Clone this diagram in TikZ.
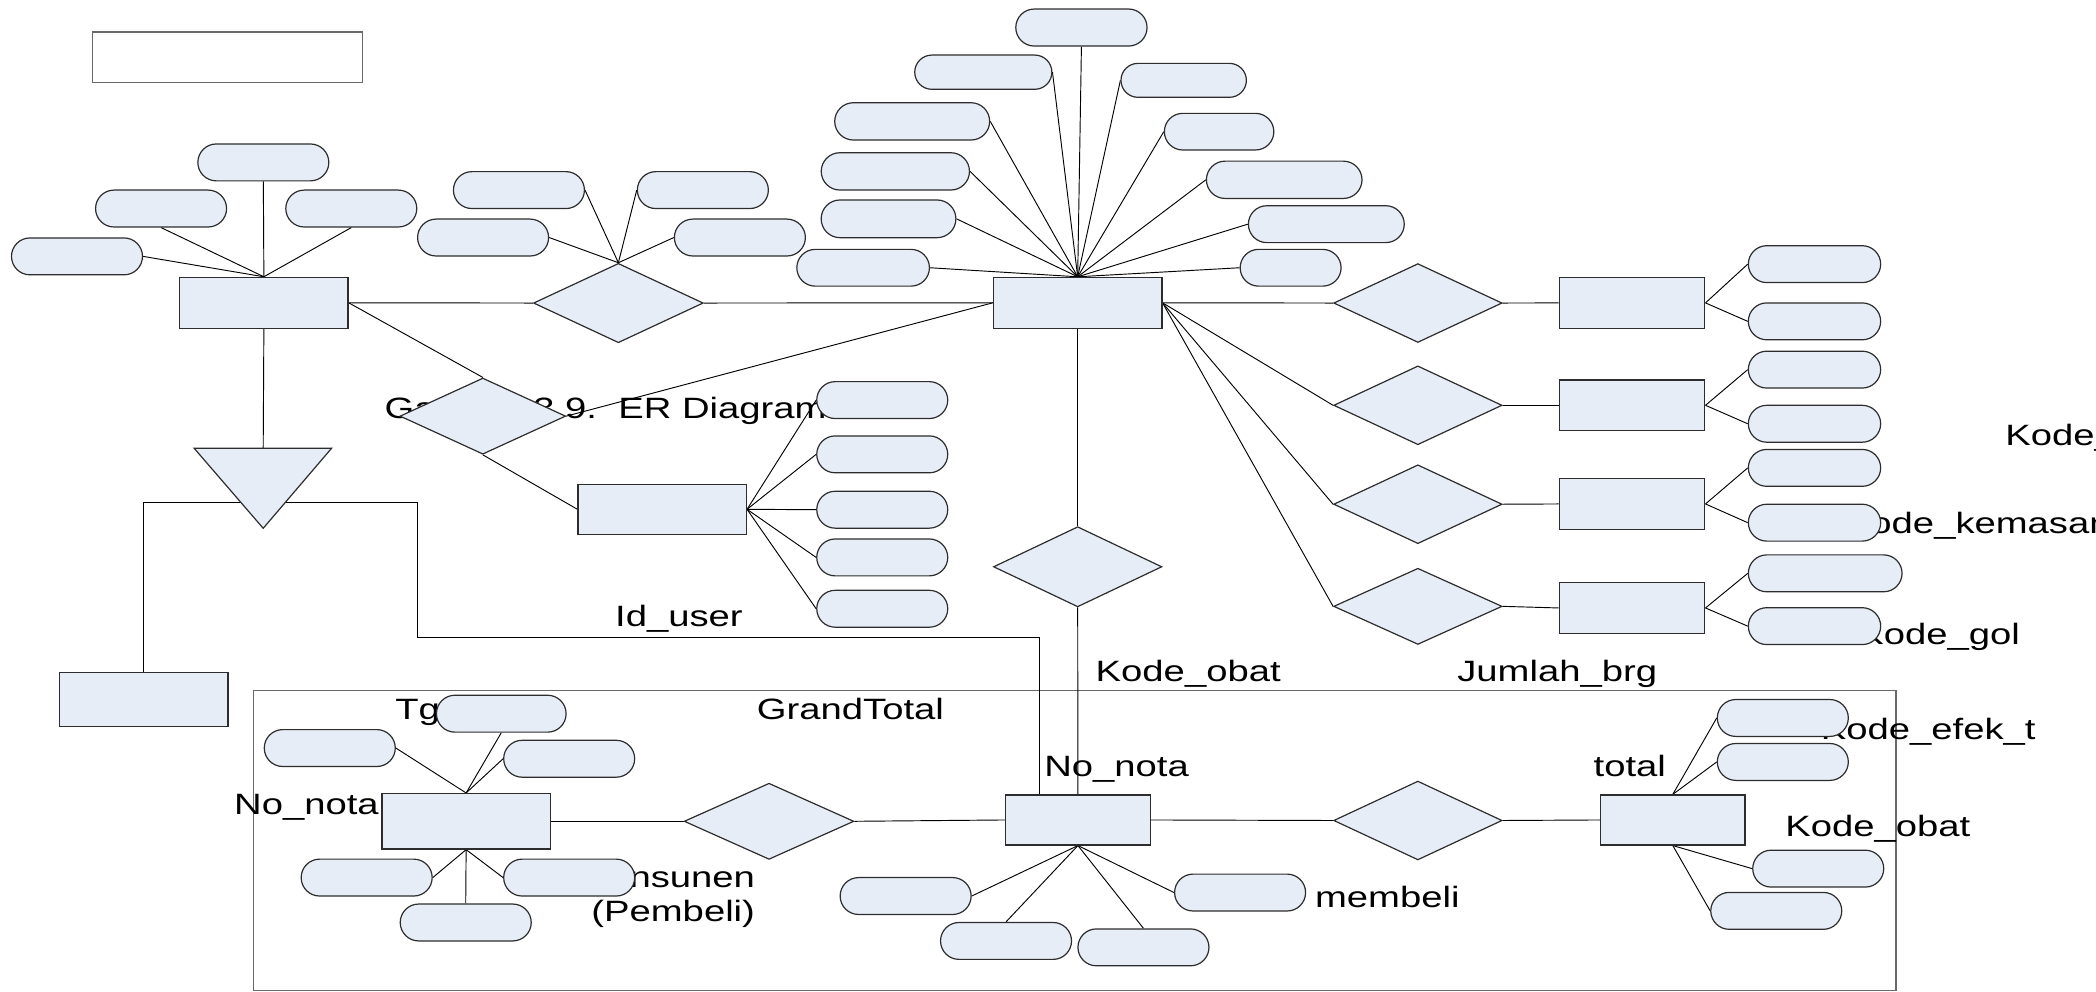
\documentclass[tikz,border=0pt]{standalone}
\usepackage{fontspec}
\newfontfamily\lblfont[FakeStretch=1.3]{Liberation Sans}
\usetikzlibrary{shapes.geometric,shapes.misc,backgrounds}
\definecolor{shfill}{RGB}{231,237,247}
\definecolor{shdraw}{RGB}{45,45,45}
\definecolor{boxdraw}{RGB}{105,105,105}
\frenchspacing
\begin{document}
\begin{tikzpicture}[x=1pt,y=-1pt,
  ent/.style={draw=shdraw,fill=shfill,line width=0.9pt,rectangle,inner sep=0pt,minimum width=126pt,minimum height=38pt},
  rel/.style={draw=shdraw,fill=shfill,line width=0.9pt,diamond,inner sep=0pt,minimum width=126pt,minimum height=59pt},
  attr/.style={draw=shdraw,fill=shfill,line width=0.9pt,rounded rectangle,inner sep=0pt,minimum width=98pt,minimum height=27.6pt},
  conn/.style={draw=black,line width=0.7pt},
  lbl/.style={font=\lblfont\fontsize{22}{26}\selectfont,inner sep=0pt,anchor=base west},
  lblr/.style={font=\lblfont\fontsize{22}{26}\selectfont,inner sep=0pt,anchor=base east}]
\useasboundingbox (0,0) rectangle (1568,742);

% ---------- free texts (drawn beneath the shapes) ----------
\node[lbl] (tGambar) at (287.5,313) {Gambar 3.9.~~ER Diagram};
\node[lbl] (tIduser) at (460,469) {Id\_user};
\node[lbl] (tGrand) at (566,538) {GrandTotal};
\node[lbl] (tTg) at (295.5,538) {Tg};
\node[lbl] (tNonota1) at (175,609) {No\_nota};
\node[lblr] (tKons) at (565,664) {Konsunen};
\node[lblr] (tPemb) at (565,689) {(Pembeli)};
\node[lbl] (tNonota2) at (781,581) {No\_nota};
\node[lbl] (tKodeobat1) at (819.5,510) {Kode\_obat};
\node[lbl] (tJumlah) at (1090,510) {Jumlah\_brg};
\node[lbl] (tTotal) at (1192,581) {total};
\node[lbl] (tMembeli) at (983.6,679) {membeli};
\node[lbl] (tKodeobat2) at (1335.4,626) {Kode\_obat};
\node[lbl] (tEfek) at (1362,553) {Kode\_efek\_t};
\node[lbl] (tGol) at (1390,482.5) {Kode\_gol};
\node[lbl] (tKemasan) at (1380,399) {Kode\_kemasan};
\node[lbl] (tKode) at (1500,333.5) {Kode\_};

% ---------- frame and title box ----------
\node[draw=boxdraw,fill=white,line width=0.9pt,rectangle,inner sep=0pt,minimum width=202pt,minimum height=38pt] (title) at (170,43) {};
\begin{scope}[on background layer]
\node[draw=boxdraw,line width=1pt,rectangle,inner sep=0pt,minimum width=1228.9pt,minimum height=224.3pt] (frame) at (803.85,628.85) {};
\end{scope}

% ---------- left entity and attributes ----------
\node[ent] (A) at (197.4,226.5) {};
\node[attr] (a1) at (197,121.5) {};
\node[attr] (a2) at (120.5,156) {};
\node[attr] (a3) at (262.8,156) {};
\node[attr] (a4) at (57.6,191.8) {};

\node[rel,minimum width=127pt,minimum height=59.4pt] (D1) at (462.6,226.7) {};
\node[attr] (d1) at (388.2,142.2) {};
\node[attr] (d2) at (525.8,142.2) {};
\node[attr] (d3) at (361.4,177.7) {};
\node[attr] (d4) at (553.5,177.7) {};

% ---------- central entity ----------
\node[ent] (C) at (806.2,226.5) {};
\node[attr,minimum width=98.2pt,minimum height=27.7pt] (c1) at (809,20.6) {};
\node[attr,minimum width=102.6pt,minimum height=25.6pt] (c2) at (735.6,54) {};
\node[attr,minimum width=93.8pt,minimum height=25.4pt] (c3) at (885.5,60.1) {};
\node[attr,minimum width=115.9pt,minimum height=27.9pt] (c4) at (682.4,90.8) {};
\node[attr,minimum width=81.9pt,minimum height=27.4pt] (c5) at (912,98.5) {};
\node[attr,minimum width=110.9pt,minimum height=27.9pt] (c6) at (669.8,128.2) {};
\node[attr,minimum width=116.4pt,minimum height=27.9pt] (c7) at (960.7,134.5) {};
\node[attr,minimum width=100.8pt,minimum height=28.2pt] (c8) at (664.7,163.7) {};
\node[attr,minimum width=116.6pt,minimum height=27.6pt] (c9) at (992.2,167.7) {};
\node[attr,minimum width=99.2pt,minimum height=27.5pt] (c10) at (645.7,200.3) {};
\node[attr,minimum width=75.5pt,minimum height=27.5pt] (c11) at (965.5,200.3) {};

% ---------- user branch ----------
\node[rel,minimum width=124pt,minimum height=57pt] (D2) at (361.2,311.3) {};
\node[ent,minimum height=37.4pt] (E) at (495.4,381) {};
\node[attr] (u1) at (660,299.3) {};
\node[attr] (u2) at (660,339.9) {};
\node[attr] (u3) at (660,381.3) {};
\node[attr] (u4) at (660,417) {};
\node[attr] (u5) at (660,455.4) {};

% ---------- specialisation triangle ----------
\draw[draw=shdraw,fill=shfill,line width=0.9pt] (145.3,335.4) -- (248,335.4) -- (196.9,395.2) -- cycle;
\coordinate (Ttop) at (196.9,335.4);
\coordinate (Tmid) at (196.9,376);
\coordinate (bend) at (312.1,477);
\node[ent,minimum height=40pt] (F) at (107.6,523.2) {};

% ---------- right side relations ----------
\node[rel] (R1) at (1060.7,226.7) {};
\node[rel] (R2) at (1060.7,303.2) {};
\node[rel] (R3) at (1060.7,377.2) {};
\node[rel,minimum height=57pt] (R4) at (1060.7,453.6) {};
\node[ent,minimum width=109pt] (E1) at (1220.9,226.6) {};
\node[ent,minimum width=109pt] (E2) at (1220.9,303.2) {};
\node[ent,minimum width=109pt] (E3) at (1220.9,377) {};
\node[ent,minimum width=109pt] (E4) at (1220.9,454.8) {};
\node[attr,minimum width=99pt] (e1a) at (1357.4,197.6) {};
\node[attr,minimum width=99pt] (e1b) at (1357.4,240.4) {};
\node[attr,minimum width=99pt] (e2a) at (1357.4,276.5) {};
\node[attr,minimum width=99pt] (e2b) at (1357.4,317) {};
\node[attr,minimum width=99pt] (e3a) at (1357.4,350) {};
\node[attr,minimum width=99pt] (e3b) at (1357.4,391) {};
\node[attr,minimum width=115pt] (e4a) at (1365.4,428.9) {};
\node[attr,minimum width=99pt] (e4b) at (1357.4,468.4) {};

% ---------- lower part ----------
\node[rel,minimum height=60pt] (D3) at (806.2,424) {};
\node[ent,minimum width=108pt,minimum height=37.4pt] (G) at (806.4,613.4) {};
\coordinate (gin) at ([xshift=-29pt]G.north);
\node[attr] (g1) at (677.5,670.3) {};
\node[attr] (g2) at (752.6,703.9) {};
\node[attr] (g3) at (855.4,708.7) {};
\node[attr] (g4) at (927.7,667.7) {};

\node[rel,minimum width=127pt,minimum height=57pt] (D5) at (575.3,614.4) {};
\node[ent,minimum height=41.5pt] (P) at (348.7,614.4) {};
\node[attr,minimum width=97pt] (pTg) at (375,533.9) {};
\node[attr] (p2) at (246.7,559.6) {};
\node[attr] (p3) at (425.8,567.6) {};
\node[attr] (p4) at (274.3,656.5) {};
\node[attr] (p5) at (425.8,656.5) {};
\node[attr] (p6) at (348.4,690.1) {};

\node[rel,minimum height=59pt] (D6) at (1060.7,613.8) {};
\node[ent,minimum width=108pt,minimum height=37.4pt] (H) at (1251.4,613.4) {};
\node[attr] (h1) at (1333.7,537.1) {};
\node[attr] (h2) at (1333.7,570) {};
\node[attr] (h3) at (1360.2,649.8) {};
\node[attr] (h4) at (1328.8,681.4) {};

% ---------- connectors ----------
\begin{scope}[on background layer]
\draw[conn] (a1.south) -- (A.north);
\draw[conn] (a2.south) -- (A.north);
\draw[conn] (a3.south) -- (A.north);
\draw[conn] (a4.east) -- (A.north);
\draw[conn] (A.east) -- (D1.west);
\draw[conn] (D1.east) -- (C.west);
\draw[conn] (d1.east) -- (D1.north);
\draw[conn] (d2.west) -- (D1.north);
\draw[conn] (d3.east) -- (D1.north);
\draw[conn] (d4.west) -- (D1.north);

\draw[conn] (c1.south) -- (C.north);
\draw[conn] (c2.east) -- (C.north);
\draw[conn] (c3.west) -- (C.north);
\draw[conn] (c4.east) -- (C.north);
\draw[conn] (c5.west) -- (C.north);
\draw[conn] (c6.east) -- (C.north);
\draw[conn] (c7.west) -- (C.north);
\draw[conn] (c8.east) -- (C.north);
\draw[conn] (c9.west) -- (C.north);
\draw[conn] (c10.east) -- (C.north);
\draw[conn] (c11.west) -- (C.north);

\draw[conn] (A.east) -- (D2.north);
\draw[conn] (C.west) -- (D2.east);
\draw[conn] (D2.south) -- (E.west);
\foreach \u in {u1,u2,u3,u4,u5} \draw[conn] (E.east) -- (\u.west);

\draw[conn] (A.south) -- (Ttop);
\draw[conn] (F.north) |- (Tmid);
\draw[conn] (Tmid) -| (bend) -| (gin);

\draw[conn] (C.south) -- (D3.north);
\draw[conn] (D3.south) -- (G.north);

\draw[conn] (C.east) -- (R1.west);
\draw[conn] (C.east) -- (R2.west);
\draw[conn] (C.east) -- (R3.west);
\draw[conn] (C.east) -- (R4.west);
\draw[conn] (R1.east) -- (E1.west);
\draw[conn] (R2.east) -- (E2.west);
\draw[conn] (R3.east) -- (E3.west);
\draw[conn] (R4.east) -- (E4.west);
\draw[conn] (E1.east) -- (e1a.west);
\draw[conn] (E1.east) -- (e1b.west);
\draw[conn] (E2.east) -- (e2a.west);
\draw[conn] (E2.east) -- (e2b.west);
\draw[conn] (E3.east) -- (e3a.west);
\draw[conn] (E3.east) -- (e3b.west);
\draw[conn] (E4.east) -- (e4a.west);
\draw[conn] (E4.east) -- (e4b.west);

\draw[conn] (P.east) -- (D5.west);
\draw[conn] (D5.east) -- (G.west);
\draw[conn] (G.east) -- (D6.west);
\draw[conn] (D6.east) -- (H.west);

\draw[conn] (pTg.south) -- (P.north);
\draw[conn] (p2.east) -- (P.north);
\draw[conn] (p3.west) -- (P.north);
\draw[conn] (p4.east) -- (P.south);
\draw[conn] (p5.west) -- (P.south);
\draw[conn] (p6.north) -- (P.south);

\draw[conn] (g1.east) -- (G.south);
\draw[conn] (g2.north) -- (G.south);
\draw[conn] (g3.north) -- (G.south);
\draw[conn] (g4.west) -- (G.south);

\draw[conn] (h1.west) -- (H.north);
\draw[conn] (h2.west) -- (H.north);
\draw[conn] (h3.west) -- (H.south);
\draw[conn] (h4.west) -- (H.south);
\end{scope}
\end{tikzpicture}
\end{document}
